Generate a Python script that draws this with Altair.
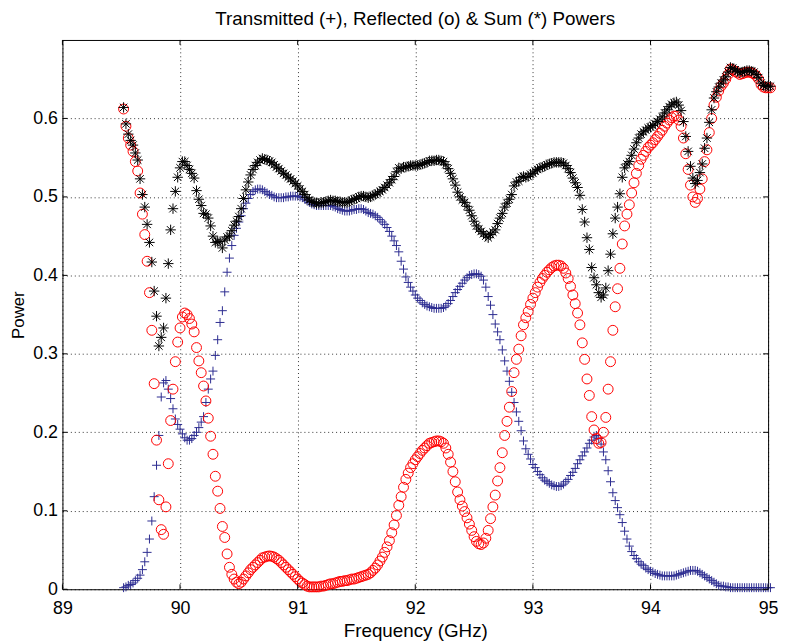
import altair as alt
import pandas as pd

# ---------------- data ----------------
# sample frequencies (GHz), one every 0.02 GHz
freq = [round(89.52 + 0.02 * i, 2) for i in range(276)]

transmitted = [
    0.002, 0.003, 0.005, 0.006, 0.008, 0.011, 0.014, 0.018, 0.025, 0.035,
    0.047, 0.064, 0.087, 0.118, 0.158, 0.196, 0.245, 0.263, 0.266, 0.255,
    0.243, 0.230, 0.217, 0.210, 0.204, 0.198, 0.193, 0.190, 0.190, 0.192,
    0.196, 0.200, 0.206, 0.213, 0.220, 0.238, 0.255, 0.268, 0.278, 0.298,
    0.318, 0.340, 0.355, 0.379, 0.404, 0.422, 0.438, 0.451, 0.460, 0.468,
    0.476, 0.485, 0.492, 0.498, 0.503, 0.507, 0.509, 0.510, 0.510, 0.509,
    0.507, 0.505, 0.503, 0.502, 0.500, 0.499, 0.499, 0.499, 0.499, 0.500,
    0.500, 0.501, 0.501, 0.501, 0.501, 0.500, 0.499, 0.497, 0.495, 0.493,
    0.491, 0.490, 0.489, 0.489, 0.489, 0.489, 0.489, 0.489, 0.489, 0.488,
    0.487, 0.485, 0.484, 0.483, 0.482, 0.482, 0.482, 0.483, 0.484, 0.484,
    0.485, 0.485, 0.484, 0.482, 0.480, 0.479, 0.478, 0.476, 0.474, 0.471,
    0.468, 0.465, 0.461, 0.456, 0.450, 0.444, 0.438, 0.430, 0.418, 0.408,
    0.398, 0.391, 0.385, 0.380, 0.375, 0.371, 0.368, 0.365, 0.363, 0.361,
    0.360, 0.359, 0.358, 0.358, 0.358, 0.358, 0.359, 0.361, 0.364, 0.368,
    0.373, 0.378, 0.382, 0.386, 0.390, 0.394, 0.397, 0.400, 0.401, 0.402,
    0.402, 0.401, 0.399, 0.394, 0.385, 0.373, 0.362, 0.350, 0.338, 0.328,
    0.318, 0.305, 0.291, 0.278, 0.265, 0.251, 0.238, 0.226, 0.214, 0.202,
    0.189, 0.179, 0.172, 0.166, 0.159, 0.155, 0.150, 0.146, 0.142, 0.139,
    0.137, 0.135, 0.133, 0.132, 0.131, 0.131, 0.132, 0.134, 0.137, 0.140,
    0.145, 0.149, 0.154, 0.160, 0.165, 0.170, 0.175, 0.180, 0.186, 0.190,
    0.194, 0.196, 0.192, 0.185, 0.175, 0.165, 0.151, 0.137, 0.123, 0.113,
    0.104, 0.095, 0.085, 0.074, 0.064, 0.055, 0.048, 0.043, 0.039, 0.035,
    0.032, 0.030, 0.027, 0.025, 0.023, 0.022, 0.020, 0.019, 0.018, 0.017,
    0.017, 0.017, 0.017, 0.017, 0.017, 0.018, 0.019, 0.020, 0.021, 0.022,
    0.023, 0.024, 0.024, 0.024, 0.023, 0.021, 0.019, 0.017, 0.015, 0.013,
    0.011, 0.009, 0.007, 0.005, 0.004, 0.004, 0.003, 0.003, 0.002, 0.002,
    0.002, 0.002, 0.002, 0.002, 0.002, 0.002, 0.002, 0.002, 0.002, 0.002,
    0.002, 0.002, 0.002, 0.002, 0.002, 0.002,
]

reflected = [
    0.612, 0.590, 0.575, 0.566, 0.558, 0.545, 0.533, 0.505, 0.478, 0.452,
    0.418, 0.378, 0.330, 0.262, 0.190, 0.114, 0.076, 0.070, 0.105, 0.160,
    0.215, 0.255, 0.290, 0.315, 0.333, 0.347, 0.352, 0.350, 0.345, 0.338,
    0.328, 0.308, 0.291, 0.276, 0.259, 0.240, 0.218, 0.195, 0.172, 0.144,
    0.125, 0.103, 0.080, 0.066, 0.045, 0.028, 0.019, 0.013, 0.009, 0.007,
    0.009, 0.013, 0.017, 0.021, 0.025, 0.028, 0.031, 0.034, 0.037, 0.040,
    0.041, 0.042, 0.0425, 0.042, 0.041, 0.039, 0.037, 0.034, 0.031, 0.028,
    0.025, 0.022, 0.019, 0.016, 0.013, 0.010, 0.008, 0.006, 0.004, 0.003,
    0.003, 0.003, 0.003, 0.003, 0.004, 0.004, 0.005, 0.006, 0.007, 0.007,
    0.008, 0.009, 0.010, 0.010, 0.011, 0.011, 0.012, 0.013, 0.013, 0.014,
    0.015, 0.016, 0.017, 0.018, 0.019, 0.021, 0.024, 0.027, 0.031, 0.036,
    0.041, 0.047, 0.054, 0.062, 0.072, 0.082, 0.094, 0.107, 0.118, 0.130,
    0.140, 0.148, 0.155, 0.160, 0.165, 0.169, 0.173, 0.177, 0.180, 0.183,
    0.186, 0.187, 0.188, 0.189, 0.189, 0.188, 0.186, 0.180, 0.172, 0.162,
    0.150, 0.137, 0.124, 0.114, 0.106, 0.099, 0.091, 0.083, 0.075, 0.067,
    0.061, 0.058, 0.057, 0.059, 0.065, 0.075, 0.090, 0.105, 0.120, 0.138,
    0.155, 0.174, 0.196, 0.214, 0.232, 0.252, 0.276, 0.293, 0.306, 0.323,
    0.337, 0.346, 0.354, 0.363, 0.371, 0.378, 0.385, 0.391, 0.396, 0.400,
    0.404, 0.407, 0.410, 0.412, 0.413, 0.413, 0.412, 0.409, 0.403, 0.396,
    0.386, 0.375, 0.364, 0.352, 0.337, 0.314, 0.293, 0.268, 0.247, 0.220,
    0.203, 0.192, 0.186, 0.187, 0.200, 0.219, 0.255, 0.290, 0.330, 0.360,
    0.383, 0.409, 0.440, 0.463, 0.478, 0.490, 0.505, 0.518, 0.530, 0.540,
    0.548, 0.553, 0.558, 0.563, 0.566, 0.569, 0.573, 0.577, 0.581, 0.585,
    0.590, 0.594, 0.598, 0.601, 0.603, 0.603, 0.598, 0.590, 0.575, 0.555,
    0.535, 0.515, 0.500, 0.493, 0.498, 0.510, 0.523, 0.545, 0.560, 0.582,
    0.600, 0.617, 0.627, 0.635, 0.641, 0.645, 0.650, 0.656, 0.663, 0.662,
    0.660, 0.658, 0.656, 0.657, 0.658, 0.659, 0.659, 0.658, 0.657, 0.654,
    0.650, 0.643, 0.640, 0.639, 0.639, 0.639,
]

# the "Sum" series is, by definition, transmitted + reflected
total = [round(t + r, 4) for t, r in zip(transmitted, reflected)]

x_ticks = [89, 90, 91, 92, 93, 94, 95]
y_ticks = [0, 0.1, 0.2, 0.3, 0.4, 0.5, 0.6]

title_text = "Transmitted (+), Reflected (o) & Sum (*) Powers"
x_title = "Frequency (GHz)"
y_title = "Power"

# ---------------- chart ----------------
W, H = 713, 555
FONT = "Liberation Sans"

df = pd.DataFrame({"f": freq, "T": transmitted, "R": reflected, "S": total})
xt = pd.DataFrame({"f": x_ticks})
yt = pd.DataFrame({"T": y_ticks})

xs = alt.Scale(domain=[89, 95], nice=False, zero=False)
ys = alt.Scale(domain=[0, 0.7], nice=False, zero=False)

plus_path = "M-1,0L1,0M0,-1L0,1"
star_path = "M-1,0L1,0M0,-1L0,1M-0.72,-0.72L0.72,0.72M-0.72,0.72L0.72,-0.72"

x_axis = alt.Axis(
    values=x_ticks, format="d", title=x_title, grid=True, gridDash=[1, 3],
    gridColor="black", gridOpacity=0.8, ticks=False, tickSize=0, domain=False,
    labelFontSize=18, labelFont=FONT, labelColor="black", labelPadding=10,
    titleFont=FONT, titleFontSize=19, titleFontWeight="normal", titleColor="black",
    titlePadding=5, labelFlush=False,
)
y_axis = alt.Axis(
    values=y_ticks, format="~g", title=y_title, grid=True, gridDash=[1, 3],
    gridColor="black", gridOpacity=0.8, ticks=False, tickSize=0, domain=False,
    labelFontSize=18, labelFont=FONT, labelColor="black", labelPadding=5,
    titleFont=FONT, titleFontSize=17, titleFontWeight="normal", titleColor="black",
    titlePadding=5, labelFlush=False,
)

X = alt.X("f:Q", scale=xs, axis=x_axis)


def Y(field):
    return alt.Y(field + ":Q", scale=ys, axis=y_axis)


base = alt.Chart(df)

t_layer = base.mark_point(
    shape=plus_path, filled=False, stroke="#2b2b90", strokeWidth=1, size=81, opacity=1, clip=False
).encode(x=X, y=Y("T"))

r_layer = base.mark_point(
    shape="circle", filled=False, stroke="#ff0000", strokeWidth=1, size=100, opacity=1, clip=False
).encode(x=X, y=Y("R"))

s_layer = base.mark_point(
    shape=star_path, filled=False, stroke="black", strokeWidth=1, size=110, opacity=1, clip=False
).encode(x=X, y=Y("S"))

tick_len = 5
bottom_ticks = alt.Chart(xt).mark_rule(color="black", strokeWidth=1).encode(
    x=X, y=alt.value(H), y2=alt.value(H - tick_len)
)
top_ticks = alt.Chart(xt).mark_rule(color="black", strokeWidth=1).encode(
    x=X, y=alt.value(0), y2=alt.value(tick_len)
)
left_ticks = alt.Chart(yt).mark_rule(color="black", strokeWidth=1).encode(
    y=Y("T"), x=alt.value(0), x2=alt.value(tick_len)
)
right_ticks = alt.Chart(yt).mark_rule(color="black", strokeWidth=1).encode(
    y=Y("T"), x=alt.value(W - tick_len), x2=alt.value(W)
)

chart = alt.layer(
    t_layer, r_layer, s_layer, bottom_ticks, top_ticks, left_ticks, right_ticks
).properties(
    width=W,
    height=H,
    title=alt.TitleParams(
        title_text, font=FONT, fontSize=19, fontWeight="normal", color="black",
        anchor="middle", offset=11,
    ),
    autosize=alt.AutoSizeParams(type="none"),
    padding={"left": 55, "top": 29, "right": 10, "bottom": 50},
    background="white",
).configure_view(
    stroke="black", strokeWidth=1
)

chart.save("out.html", embed_options={"renderer": "svg", "actions": False})
